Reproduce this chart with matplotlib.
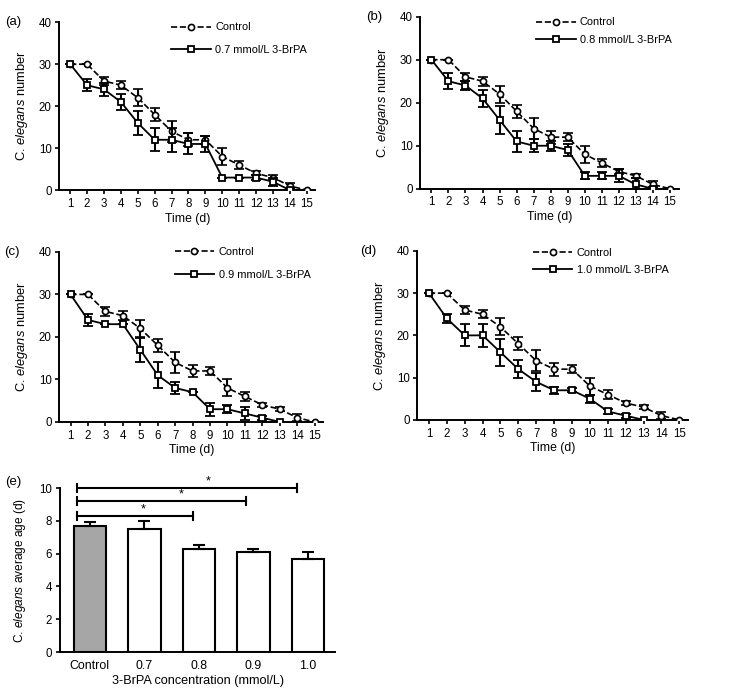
import numpy as np
import matplotlib
matplotlib.use("Agg")
import matplotlib.pyplot as plt

plt.rcParams['font.family'] = ['Liberation Sans', 'DejaVu Sans']
plt.rcParams['mathtext.fontset'] = 'custom'
plt.rcParams['mathtext.rm'] = 'Liberation Sans'
plt.rcParams['mathtext.it'] = 'Liberation Sans:italic'

# ---------------------------------------------------------------- data
days = list(range(1, 16))

control = [30, 30, 26, 25, 22, 18, 14, 12, 12, 8, 6, 4, 3, 1, 0]
control_err = [0, 0, 1, 1, 2, 1.5, 2.5, 1.5, 1, 2, 1, 0.5, 0.5, 0.8, 0]

brpa_07 = [30, 25, 24, 21, 16, 12, 12, 11, 11, 3, 3, 3, 2, 0]
brpa_07_err = [0, 1.5, 1.5, 2, 2.8, 2.7, 2.8, 2.5, 1.8, 0, 0, 0.5, 1, 0.5]

brpa_08 = [30, 25, 24, 21, 16, 11, 10, 10, 9, 3, 3, 3, 1, 0]
brpa_08_err = [0, 1.8, 1, 2, 3.2, 2.5, 1.5, 1.2, 1.5, 0.8, 0.8, 1.5, 1.5, 0.5]

brpa_09 = [30, 24, 23, 23, 17, 11, 8, 7, 3, 3, 2, 1, 0]
brpa_09_err = [0, 1.5, 0, 0, 2.8, 3, 1.5, 0, 1.5, 1, 1.5, 0.5, 0]

brpa_10 = [30, 24, 20, 20, 16, 12, 9, 7, 7, 5, 2, 1, 0]
brpa_10_err = [0, 1, 2.6, 2.8, 3.2, 2.2, 2.2, 0.8, 0.5, 1, 0.5, 0.5, 0]

bar_labels = ["Control", "0.7", "0.8", "0.9", "1.0"]
avg_age = [7.7, 7.5, 6.3, 6.1, 5.7]
avg_age_err = [0.25, 0.5, 0.25, 0.2, 0.4]

YLABEL = "C. $\\mathit{elegans}$ number"

# ---------------------------------------------------------------- figure
fig = plt.figure(figsize=(7.4, 6.94), dpi=100)

# tag, axes rect, series, errors, legend label, legend anchor, legend spacing
panels = [
    ("(a)", [0.080, 0.726, 0.346, 0.242], brpa_07, brpa_07_err, "0.7 mmol/L 3-BrPA", (0.40, 1.058), 1.17),
    ("(b)", [0.568, 0.728, 0.349, 0.248], brpa_08, brpa_08_err, "0.8 mmol/L 3-BrPA", (0.41, 1.053), 0.67),
    ("(c)", [0.080, 0.392, 0.357, 0.245], brpa_09, brpa_09_err, "0.9 mmol/L 3-BrPA", (0.40, 1.088), 1.17),
    ("(d)", [0.564, 0.395, 0.366, 0.2435], brpa_10, brpa_10_err, "1.0 mmol/L 3-BrPA", (0.39, 1.076), 0.67),
]


def style_axes(ax):
    ax.spines["top"].set_visible(False)
    ax.spines["right"].set_visible(False)
    ax.spines["left"].set_linewidth(1.4)
    ax.spines["bottom"].set_linewidth(1.4)
    ax.tick_params(direction="out", length=3, width=1.2, labelsize=8.3, pad=2.5)


for tag, rect, vals, errs, lab, anchor, spacing in panels:
    ax = fig.add_axes(rect)
    x2 = days[:len(vals)]
    ax.errorbar(days, control, yerr=control_err, color="black", ls="--", lw=1.2,
                marker="o", ms=4.4, mfc="white", mec="black", mew=1.2,
                capsize=3.5, elinewidth=1.5, capthick=1.5, label="Control", zorder=3)
    ax.errorbar(x2, vals, yerr=errs, color="black", ls="-", lw=1.3,
                marker="s", ms=4.8, mfc="white", mec="black", mew=1.3,
                capsize=3.5, elinewidth=1.5, capthick=1.5, label=lab, zorder=4)
    ax.set_xlim(0.35, 15.5)
    ax.set_ylim(0, 40)
    ax.set_xticks(days)
    ax.set_yticks([0, 10, 20, 30, 40])
    ax.set_xlabel("Time (d)", fontsize=8.8, labelpad=2)
    ax.set_ylabel(YLABEL, fontsize=9.3, labelpad=6)
    style_axes(ax)
    h, l = ax.get_legend_handles_labels()
    hs = [hh[0] for hh in h]
    ax.legend(hs, l, loc="upper left", bbox_to_anchor=anchor, frameon=False,
              fontsize=7.9, handlelength=3.6, handletextpad=0.4, labelspacing=spacing)
    ax.text(-0.21, 1.0, tag, transform=ax.transAxes, fontsize=9.5, va="center", ha="left")

# ---------------------------------------------------------------- (e)
ax = fig.add_axes([0.081, 0.0605, 0.372, 0.236])
xb = np.arange(len(bar_labels))
colors = ["#a6a6a6"] + ["white"] * 4
ax.bar(xb, avg_age, width=0.6, color=colors, edgecolor="black", linewidth=1.5, zorder=2)
ax.errorbar(xb, avg_age, yerr=[np.zeros(len(avg_age)), avg_age_err], fmt="none",
            ecolor="black", elinewidth=1.5, capsize=4, capthick=1.5, zorder=3)

# significance brackets
brackets = [(10.0, 3.8, 2.17), (9.2, 2.86, 1.67), (8.3, 1.9, 0.97)]
for yb, xr, xs in brackets:
    xl = -0.24
    ax.plot([xl, xr], [yb, yb], color="black", lw=1.5, clip_on=False)
    ax.plot([xl, xl], [yb - 0.25, yb + 0.25], color="black", lw=1.5, clip_on=False)
    ax.plot([xr, xr], [yb - 0.25, yb + 0.25], color="black", lw=1.5, clip_on=False)
    ax.text(xs, yb + 0.05, "*", ha="center", va="bottom", fontsize=9)

ax.set_xlim(-0.55, 4.5)
ax.set_ylim(0, 10)
ax.set_xticks(xb)
ax.set_xticklabels(bar_labels)
ax.set_yticks([0, 2, 4, 6, 8, 10])
ax.set_xlabel("3-BrPA concentration (mmol/L)", fontsize=9.1, labelpad=2)
ax.set_ylabel("C. $\\mathit{elegans}$ average age (d)", fontsize=8.6, labelpad=8)
style_axes(ax)
ax.tick_params(axis="x", length=0, pad=6, labelsize=8.9)
ax.text(-0.2, 1.04, "(e)", transform=ax.transAxes, fontsize=9.5, va="center", ha="left")

fig.savefig("out.png", dpi=100)
